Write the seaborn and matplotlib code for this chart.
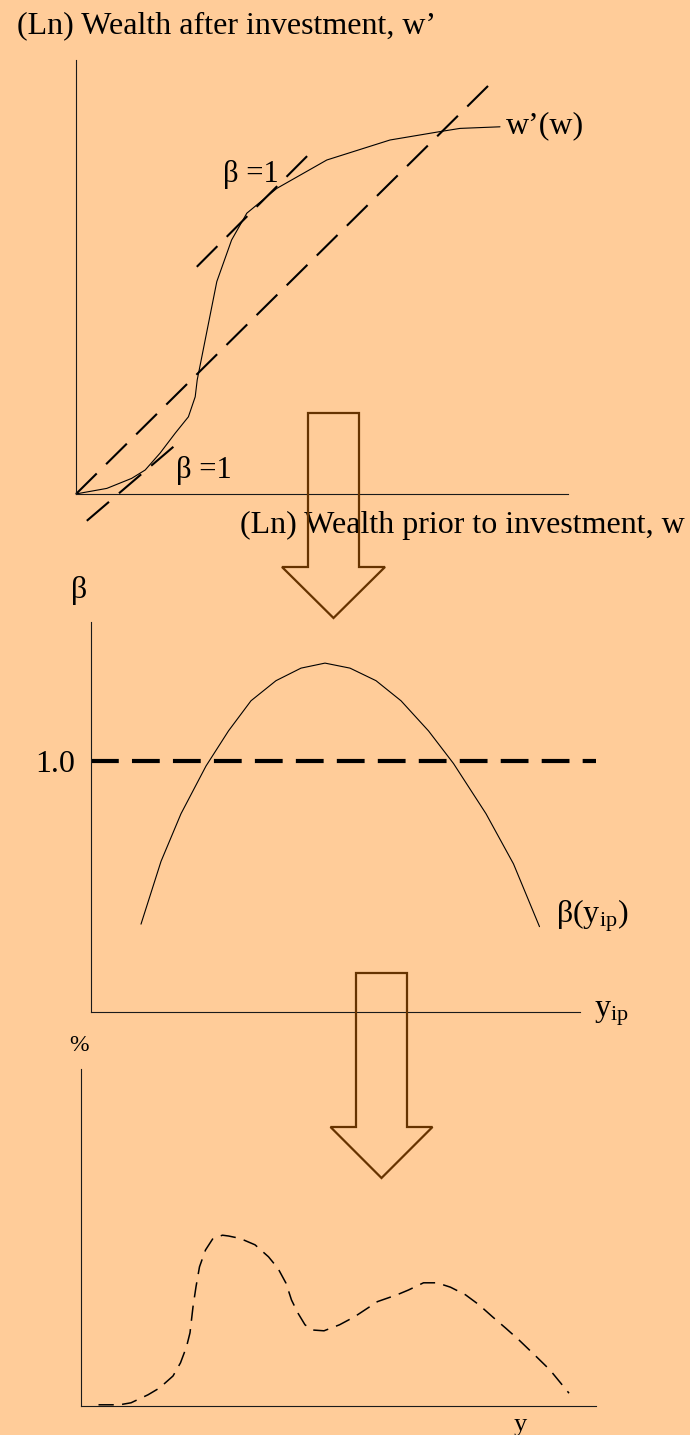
import matplotlib
matplotlib.use("Agg")
import matplotlib.pyplot as plt
from matplotlib.patches import Polygon
import pandas as pd
import seaborn as sns

# --- top panel: wealth after vs. before investment (log units) ---
w_prior = [0.0, 0.1, 0.77, 1.39, 1.73, 2.1, 2.48, 2.81, 2.98, 3.03, 3.52, 3.89,
           4.27, 5.02, 6.27, 7.85, 9.1, 9.6, 10.6]
w_after = [0.0, 0.02, 0.14, 0.39, 0.6, 1.02, 1.52, 1.93, 2.43, 2.85, 5.31, 6.35,
           7.02, 7.64, 8.35, 8.85, 9.06, 9.14, 9.18]
diag_x = [0.0, 10.4]
diag_y = [0.0, 10.3]
tan_hi_x = [3.02, 5.93]
tan_hi_y = [5.68, 8.6]
tan_lo_x = [0.27, 2.68]
tan_lo_y = [-0.67, 1.39]

# --- middle panel: beta as a function of y_ip ---
yip = [1.0, 1.4, 1.8, 2.3, 2.75, 3.2, 3.7, 4.2, 4.68, 5.18, 5.7, 6.2, 6.75,
       7.25, 7.9, 8.45, 8.97]
beta = [0.35, 0.60, 0.79, 0.98, 1.12, 1.24, 1.32, 1.37, 1.39, 1.37, 1.32, 1.24,
        1.12, 0.99, 0.79, 0.59, 0.34]
beta_ref = 1.0
ref_x = [0.0, 10.1]

# --- bottom panel: distribution of y (%) ---
y_vals = [0.35, 0.77, 1.0, 1.34, 1.57, 1.84, 1.99, 2.11, 2.18, 2.24, 2.30, 2.37,
          2.49, 2.64, 2.83, 2.95, 3.18, 3.48, 3.75, 3.94, 4.10, 4.21, 4.34, 4.48,
          4.63, 4.86, 5.17, 5.47, 5.93, 6.32, 6.55, 6.85, 7.12, 7.39, 7.69, 7.96,
          8.23, 8.5, 8.76, 9.11, 9.38, 9.76]
share = [0.03, 0.03, 0.08, 0.28, 0.45, 0.75, 1.08, 1.48, 1.83, 2.48, 2.98, 3.48,
         3.9, 4.19, 4.27, 4.25, 4.19, 4.03, 3.73, 3.44, 3.07, 2.65, 2.32, 2.03,
         1.9, 1.88, 2.03, 2.23, 2.61, 2.78, 2.9, 3.08, 3.08, 2.97, 2.78, 2.53,
         2.23, 1.94, 1.65, 1.23, 0.9, 0.32]

W, H = 690, 1435
BG = "#FFCC99"
ARROW = "#663300"

sns.set_theme(style="white")
plt.rcParams["font.family"] = ["Liberation Serif", "DejaVu Serif"]
plt.rcParams["mathtext.fontset"] = "custom"
plt.rcParams["mathtext.rm"] = "Liberation Serif"
plt.rcParams["mathtext.it"] = "Liberation Serif:italic"
plt.rcParams["lines.scale_dashes"] = False


def box(left, top, right, bottom):
    return [left / W, 1 - bottom / H, (right - left) / W, (bottom - top) / H]


def ftext(px, py, s, size=23, **kw):
    fig.text(px / W, 1 - py / H, s, fontsize=size, va="baseline", color="black", **kw)


def panel(rect, xlim, ylim, xspan, yspan):
    ax = fig.add_axes(box(*rect))
    ax.set_facecolor("none")
    ax.set_xlim(xlim)
    ax.set_ylim(ylim)
    ax.spines["top"].set_visible(False)
    ax.spines["right"].set_visible(False)
    ax.spines["left"].set_position(("data", 0))
    ax.spines["left"].set_bounds(0, yspan)
    ax.spines["bottom"].set_position(("data", 0))
    ax.spines["bottom"].set_bounds(0, xspan)
    for s in ["left", "bottom"]:
        ax.spines[s].set_color("#1a1a1a")
        ax.spines[s].set_linewidth(0.8)
    ax.set_xticks([])
    ax.set_yticks([])
    return ax


def line(ax, x, y, **kw):
    df = pd.DataFrame({"x": x, "y": y})
    sns.lineplot(data=df, x="x", y="y", ax=ax, sort=False, estimator=None,
                 color="black", clip_on=False, **kw)
    ax.set_xlabel("")
    ax.set_ylabel("")


def block_arrow(cx, top, shaft_w, shoulder, head_w, tip):
    pts = [(cx - shaft_w / 2, top), (cx + shaft_w / 2, top), (cx + shaft_w / 2, shoulder),
           (cx + head_w / 2, shoulder), (cx, tip), (cx - head_w / 2, shoulder),
           (cx - shaft_w / 2, shoulder)]
    pts = [(px / W, 1 - py / H) for px, py in pts]
    p = Polygon(pts, closed=True, fill=False, edgecolor=ARROW, linewidth=1.6,
                transform=fig.transFigure, zorder=10)
    fig.add_artist(p)


fig = plt.figure(figsize=(W / 100, H / 100), dpi=100, facecolor=BG)

# top panel
ax1 = panel((36, 54, 676, 534), (-1, 15), (-1, 11), 12.3, 10.85)
long_dash = (0, (21, 9.5))
line(ax1, diag_x, diag_y, linewidth=1.5, linestyle=long_dash)
line(ax1, tan_hi_x, tan_hi_y, linewidth=1.5, linestyle=long_dash)
line(ax1, tan_lo_x, tan_lo_y, linewidth=1.5, linestyle=long_dash)
line(ax1, w_prior, w_after, linewidth=0.8)

ftext(17, 33, "(Ln) Wealth after investment, w\u2019")
ftext(506, 133, "w\u2019(w)")
ftext(223, 182, "\u03b2 =1", size=22)
ftext(176, 478, "\u03b2 =1", size=22)
ftext(240, 533, "(Ln) Wealth prior to investment, w")

# middle panel
ax2 = panel((41, 585.3, 666, 1062.2), (-1, 11.5), (-0.2, 1.7), 9.78, 1.554)
line(ax2, ref_x, [beta_ref, beta_ref], linewidth=3.0, linestyle=(0, (20, 9.5)))
line(ax2, yip, beta, linewidth=0.8)
ax2.set_yticks([beta_ref])
ax2.set_yticklabels(["1.0"])
ax2.tick_params(axis="y", length=0, pad=11.5, labelsize=23, labelcolor="black")

ftext(71, 598, "\u03b2")
ftext(556, 922, r"$\mathrm{\beta(y}_{\mathrm{ip}}\mathrm{)}$")
ftext(594, 1016, r"$\mathrm{y}_{\mathrm{ip}}$")

# bottom panel
ax3 = panel((31, 1046, 656, 1426), (-1, 11.5), (-0.5, 9), 10.3, 8.43)
line(ax3, y_vals, share, linewidth=1.1, linestyle=(0, (11, 6)))

ftext(69, 1051, "%", size=17)
ftext(514, 1431, "y", size=19)

block_arrow(333.5, 413, 51, 567, 103, 618)
block_arrow(381.5, 973, 51, 1127, 102, 1178)

fig.savefig("out.png", dpi=100, facecolor=BG)
